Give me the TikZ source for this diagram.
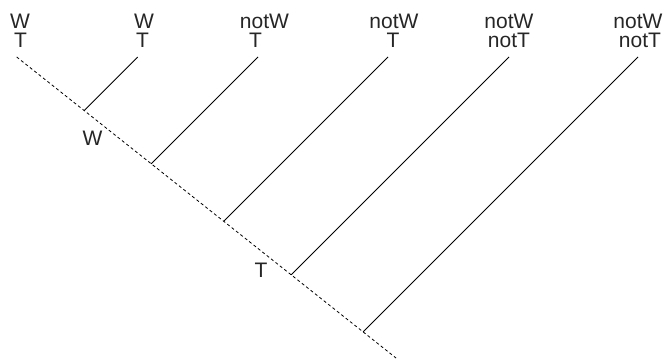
\documentclass[tikz,border=0pt]{standalone}
\usepackage{fontspec}
\setmainfont{Liberation Sans}
\begin{document}
\begin{tikzpicture}[x=1pt,y=-1pt,
  lbl/.style={anchor=base,inner sep=0pt,font=\fontsize{21}{19}\selectfont,text=black!85},
  branch/.style={line width=0.8pt},
  spine/.style={line width=0.8pt,dash pattern=on 3pt off 2.6pt}]
\useasboundingbox (0,0) rectangle (665,359);
% labels
\node[lbl] (w1) at (20,28.3) {W};
\node[lbl] (t1) at (20.5,47.3) {T};
\node[lbl] (w2) at (144,28.3) {W};
\node[lbl] (t2) at (142.5,47.3) {T};
\node[lbl] (w3) at (264.5,28.3) {notW};
\node[lbl] (t3) at (255.5,47.3) {T};
\node[lbl] (w4) at (394,28.3) {notW};
\node[lbl] (t4) at (393,47.3) {T};
\node[lbl] (w5) at (509,28.3) {notW};
\node[lbl] (t5) at (509,47.3) {notT};
\node[lbl] (w6) at (638,28.3) {notW};
\node[lbl] (t6) at (640,47.3) {notT};
\node[lbl] (lw) at (92.5,145) {W};
\node[lbl] (lt) at (261,277) {T};
% spine
\coordinate (s0) at (16.7,57);
\coordinate (s1) at (396,358);
\draw[spine] (s0) -- (s1);
% branch tops and junctions
\coordinate (a2) at (137.7,57);  \coordinate (j2) at (84.2,110.5);
\coordinate (a3) at (258,57);    \coordinate (j3) at (151.2,163.8);
\coordinate (a4) at (388,57);    \coordinate (j4) at (223.7,221.3);
\coordinate (a5) at (509,57);    \coordinate (j5) at (291.2,274.8);
\coordinate (a6) at (638,57);    \coordinate (j6) at (363.1,331.9);
\foreach \i in {2,...,6} \draw[branch] (a\i) -- (j\i);
\end{tikzpicture}
\end{document}
